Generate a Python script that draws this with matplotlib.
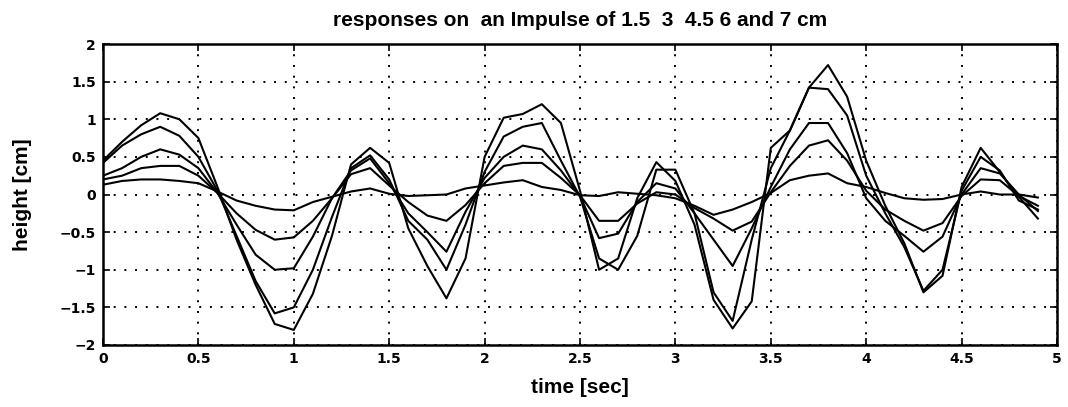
import matplotlib
matplotlib.use('Agg')
import matplotlib.pyplot as plt

# sample times [sec]
time = [0.0, 0.1, 0.2, 0.3, 0.4, 0.5, 0.6, 0.7, 0.8, 0.9,
        1.0, 1.1, 1.2, 1.3, 1.4, 1.5, 1.6, 1.7, 1.8, 1.9,
        2.0, 2.1, 2.2, 2.3, 2.4, 2.5, 2.6, 2.7, 2.8, 2.9,
        3.0, 3.1, 3.2, 3.3, 3.4, 3.5, 3.6, 3.7, 3.8, 3.9,
        4.0, 4.1, 4.2, 4.3, 4.4, 4.5, 4.6, 4.7, 4.8, 4.9]

# responses [cm] for impulses of 1.5, 3, 4.5, 6 and 7 cm
h_1_5 = [0.13, 0.18, 0.20, 0.20, 0.18, 0.15, 0.04, -0.08, -0.15, -0.20,
         -0.21, -0.10, -0.03, 0.04, 0.08, 0.01, -0.02, -0.01, 0.00, 0.08,
         0.12, 0.16, 0.19, 0.10, 0.06, -0.01, -0.02, 0.03, 0.01, -0.01,
         -0.05, -0.15, -0.27, -0.20, -0.10, 0.02, 0.19, 0.25, 0.28, 0.15,
         0.10, 0.02, -0.05, -0.07, -0.06, 0.00, 0.04, 0.00, 0.00, -0.04]
h_3 = [0.20, 0.25, 0.35, 0.38, 0.38, 0.25, 0.02, -0.25, -0.47, -0.60,
       -0.57, -0.35, -0.05, 0.27, 0.35, 0.12, -0.10, -0.28, -0.35, -0.14,
       0.15, 0.38, 0.42, 0.42, 0.22, -0.01, -0.35, -0.35, -0.12, 0.03,
       0.00, -0.18, -0.32, -0.48, -0.36, 0.03, 0.38, 0.65, 0.72, 0.45,
       0.05, -0.20, -0.35, -0.48, -0.38, -0.02, 0.20, 0.19, -0.02, -0.15]
h_4_5 = [0.25, 0.35, 0.50, 0.60, 0.53, 0.35, 0.02, -0.40, -0.80, -1.00,
         -0.98, -0.56, -0.05, 0.32, 0.48, 0.15, -0.25, -0.50, -0.76, -0.23,
         0.22, 0.50, 0.65, 0.60, 0.32, -0.02, -0.58, -0.52, -0.10, 0.15,
         0.08, -0.25, -0.60, -0.95, -0.45, 0.10, 0.60, 0.95, 0.95, 0.55,
         -0.05, -0.35, -0.55, -0.76, -0.56, 0.00, 0.35, 0.28, 0.00, -0.22]
h_6 = [0.42, 0.65, 0.80, 0.90, 0.78, 0.50, 0.05, -0.55, -1.15, -1.58,
       -1.50, -1.00, -0.30, 0.35, 0.52, 0.20, -0.35, -0.60, -1.00, -0.40,
       0.30, 0.77, 0.90, 0.95, 0.45, -0.03, -0.85, -1.00, -0.55, 0.33,
       0.33, -0.25, -1.30, -1.68, -0.60, 0.35, 0.85, 1.42, 1.40, 1.05,
       0.25, -0.25, -0.70, -1.28, -1.00, 0.05, 0.50, 0.32, -0.08, -0.20]
h_7 = [0.45, 0.70, 0.92, 1.08, 1.00, 0.75, 0.10, -0.60, -1.20, -1.72,
       -1.80, -1.32, -0.55, 0.40, 0.62, 0.42, -0.45, -0.95, -1.38, -0.85,
       0.50, 1.02, 1.07, 1.20, 0.95, 0.05, -1.00, -0.85, -0.05, 0.43,
       0.18, -0.40, -1.40, -1.78, -1.42, 0.62, 0.85, 1.42, 1.72, 1.30,
       0.45, -0.15, -0.65, -1.30, -1.08, 0.10, 0.62, 0.30, -0.03, -0.32]

x_ticks = [0, 0.5, 1, 1.5, 2, 2.5, 3, 3.5, 4, 4.5, 5]
x_labels = ['0', '0.5', '1', '1.5', '2', '2.5', '3', '3.5', '4', '4.5', '5']
y_ticks = [-2, -1.5, -1, -0.5, 0, 0.5, 1, 1.5, 2]
y_labels = ['\u22122', '\u22121.5', '\u22121', '\u22120.5', '0', '0.5', '1', '1.5', '2']

fig = plt.figure(figsize=(10.68, 4.07), dpi=100)
ax = fig.add_axes([103 / 1068, 1 - 345 / 407, 954 / 1068, 301 / 407])

for h in (h_1_5, h_3, h_4_5, h_6, h_7):
    ax.plot(time, h, color='black', linewidth=1.5)

ax.set_xlim(0, 5)
ax.set_ylim(-2, 2)
ax.set_xticks(x_ticks)
ax.set_xticklabels(x_labels)
ax.set_yticks(y_ticks)
ax.set_yticklabels(y_labels)

# matlab-ish dotted grid, inward ticks on every side
ax.grid(True, color='black', linestyle=(0, (1, 4.5)), linewidth=1.4)
ax.tick_params(direction='in', length=5, width=1.2, top=True, right=True,
               labelsize=10, pad=5)
for lab in ax.get_xticklabels() + ax.get_yticklabels():
    lab.set_fontweight('bold')
for sp in ax.spines.values():
    sp.set_linewidth(1.8)

lbl = dict(family='Liberation Sans', fontweight='bold', fontsize=15)
ax.set_title('responses on  an Impulse of 1.5  3  4.5 6 and 7 cm', pad=13, **lbl)
ax.set_xlabel('time [sec]', labelpad=9, **lbl)
ax.set_ylabel('height [cm]', labelpad=20, **lbl)

fig.savefig('out.png', dpi=100)
